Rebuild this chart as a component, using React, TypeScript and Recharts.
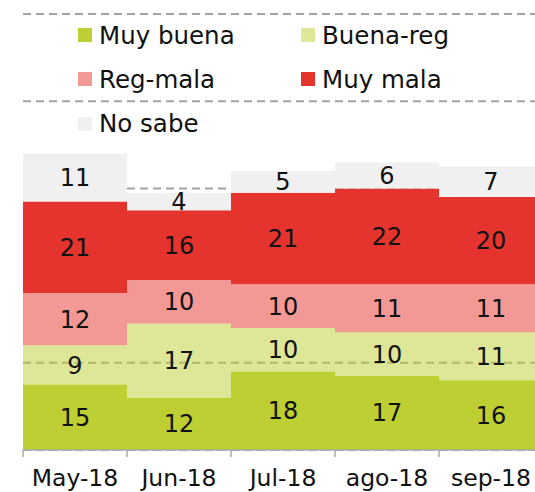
import React from 'react'
import { BarChart, Bar, XAxis, YAxis, CartesianGrid, LabelList } from 'recharts'

const months = ['May-18', 'Jun-18', 'Jul-18', 'ago-18', 'sep-18']
const muyBuena = [15, 12, 18, 17, 16]
const buenaReg = [9, 17, 10, 10, 11]
const regMala = [12, 10, 10, 11, 11]
const muyMala = [21, 16, 21, 22, 20]
const noSabe = [11, 4, 5, 6, 7]
const yTicks = [0, 20, 40, 60, 80, 100]

const GREEN = '#bdcf32'
const RED = '#e5332e'
const GRAY = '#f0f0f0'

const series = [
  { key: 'muyBuena', name: 'Muy buena', color: GREEN, opacity: 1 },
  { key: 'buenaReg', name: 'Buena-reg', color: GREEN, opacity: 0.5 },
  { key: 'regMala', name: 'Reg-mala', color: RED, opacity: 0.5 },
  { key: 'muyMala', name: 'Muy mala', color: RED, opacity: 1 },
  { key: 'noSabe', name: 'No sabe', color: GRAY, opacity: 1 },
]

const data = months.map((m, i) => ({
  month: m,
  muyBuena: muyBuena[i],
  buenaReg: buenaReg[i],
  regMala: regMala[i],
  muyMala: muyMala[i],
  noSabe: noSabe[i],
}))

const FONT = '"DejaVu Sans", sans-serif'

// tick marks sit on the category boundaries, labels in the middle
function MonthTick(props: any) {
  const { x, y, payload, width, visibleTicksCount } = props
  const band = width / visibleTicksCount
  const left = x - band / 2
  return (
    <g>
      <line x1={left} x2={left} y1={y - 8} y2={y - 1} stroke="#aaa" strokeWidth={1.5} />
      {payload.index === visibleTicksCount - 1 && (
        <line x1={left + band} x2={left + band} y1={y - 8} y2={y - 1} stroke="#aaa" strokeWidth={1.5} />
      )}
      <text x={x} y={y + 28} textAnchor="middle" fill="#111" fontSize={23.5} fontFamily={FONT}>
        {payload.value}
      </text>
    </g>
  )
}

function LegendBox() {
  return (
    <div
      style={{
        position: 'absolute',
        left: 78,
        top: 13,
        display: 'grid',
        gridTemplateColumns: '223px 200px',
        fontFamily: FONT,
        fontSize: 24.5,
        color: '#111',
      }}
    >
      {series.map((s) => (
        <div key={s.key} style={{ display: 'flex', alignItems: 'center', height: 44.3 }}>
          <span
            style={{
              display: 'inline-block',
              width: 14,
              height: 14,
              background: s.color,
              opacity: s.opacity,
              marginRight: 7,
            }}
          />
          <span>{s.name}</span>
        </div>
      ))}
    </div>
  )
}

export default function App() {
  return (
    <div style={{ position: 'absolute', left: 0, top: 0, width: 535, height: 492, overflow: 'hidden', background: '#fff' }}>
      <BarChart
        width={560}
        height={492}
        data={data}
        margin={{ top: 14, right: 17, bottom: 0, left: 23 }}
        barCategoryGap={0}
      >
        <CartesianGrid vertical={false} stroke="#a3a3a3" strokeWidth={2} strokeDasharray="8 5" />
        <YAxis hide domain={[0, 100]} ticks={yTicks} />
        <XAxis
          dataKey="month"
          height={42}
          axisLine={{ stroke: '#aaa', strokeWidth: 1.5 }}
          tickLine={false}
          tick={<MonthTick />}
          interval={0}
        />
        {series.map((s) => (
          <Bar
            key={s.key}
            dataKey={s.key}
            name={s.name}
            stackId="a"
            fill={s.color}
            fillOpacity={s.opacity}
            isAnimationActive={false}
          >
            <LabelList dataKey={s.key} position="center" fill="#111" fontSize={24} fontFamily={FONT} />
          </Bar>
        ))}
      </BarChart>
      <LegendBox />
    </div>
  )
}
